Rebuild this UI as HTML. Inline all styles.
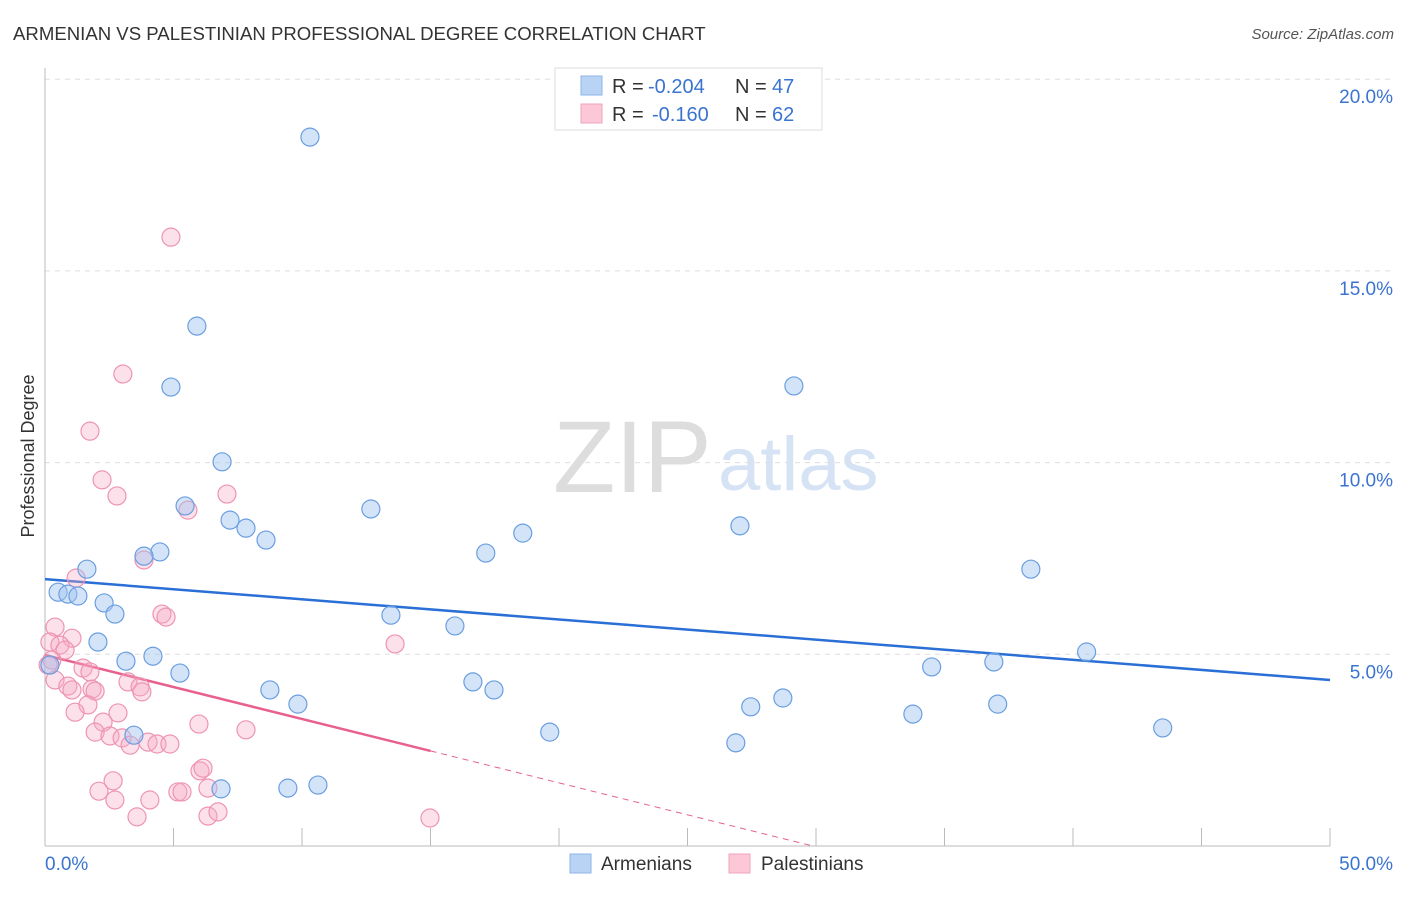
<!DOCTYPE html>
<html><head><meta charset="utf-8"><style>
body{margin:0;background:#fff;font-family:"Liberation Sans",sans-serif}
svg text{font-family:"Liberation Sans",sans-serif}
</style></head><body>
<svg id="chart" width="1406" height="892" viewBox="0 0 1406 892">
<text x="13" y="40" font-size="18.6" fill="#333">ARMENIAN VS PALESTINIAN PROFESSIONAL DEGREE CORRELATION CHART</text>
<text x="1394" y="39" font-size="15" font-style="italic" fill="#555" text-anchor="end">Source: ZipAtlas.com</text>
<text x="553" y="492" font-size="102" font-family="Liberation Serif,serif" fill="#ddd">ZIP</text>
<text x="718" y="490" font-size="76" fill="#d5e3f5">atlas</text>
<text transform="translate(34,456) rotate(-90)" font-size="18" fill="#333" text-anchor="middle">Professional Degree</text>
<g id="grid"></g><g id="axes"></g><g id="lines"></g><g id="pts"></g>
<g>
<rect x="555" y="68" width="267" height="62" fill="#fff" stroke="#ddd"/>
<rect x="581" y="76" width="21" height="19" fill="#b8d3f4" stroke="#8db4e8"/>
<rect x="581" y="104" width="21" height="19" fill="#fcc8d8" stroke="#f0a3bd"/>
<text x="612" y="93" font-size="20" fill="#333">R = <tspan x="648" fill="#3a74d0">-0.204</tspan><tspan x="735">N = </tspan><tspan x="772" fill="#3a74d0">47</tspan></text>
<text x="612" y="121" font-size="20" fill="#333">R = <tspan x="652" fill="#3a74d0">-0.160</tspan><tspan x="735">N = </tspan><tspan x="772" fill="#3a74d0">62</tspan></text>
</g>
<g>
<rect x="570" y="854" width="21" height="19" fill="#b8d3f4" stroke="#8db4e8"/>
<text x="601" y="870" font-size="19" fill="#333">Armenians</text>
<rect x="729" y="854" width="21" height="19" fill="#fcc8d8" stroke="#f0a3bd"/>
<text x="761" y="870" font-size="19" fill="#333">Palestinians</text>
</g>
</svg>
<script>
const yTicks=[5,10,15,20];
const yTickLabels=["5.0%","10.0%","15.0%","20.0%"];
const xTicks=[5,10,15,20,25,30,35,40,45,50];
const armX=[10.31,5.91,4.90,29.14,6.89,5.45,12.68,7.20,7.82,27.04,8.60,18.59,4.47,3.85,17.15,1.63,38.36,0.51,0.89,1.28,2.30,2.72,13.46,15.95,2.06,4.20,3.15,36.92,40.53,34.50,0.19,5.25,16.65,8.75,17.47,9.84,28.71,27.46,37.07,33.77,19.64,43.49,26.88,3.46,6.85,9.45,10.62];
const armY=[18.49,13.56,11.97,12.00,10.02,8.87,8.79,8.50,8.29,8.35,7.98,8.16,7.67,7.56,7.64,7.22,7.22,6.62,6.57,6.52,6.34,6.05,6.02,5.74,5.32,4.95,4.82,4.80,5.06,4.67,4.72,4.51,4.28,4.07,4.07,3.70,3.86,3.63,3.70,3.44,2.97,3.08,2.69,2.89,1.49,1.51,1.59];
const palX=[4.90,3.03,1.75,2.22,2.80,7.08,5.56,3.85,1.21,4.55,4.71,13.62,0.39,1.05,0.19,0.58,0.78,0.27,1.48,1.75,0.39,0.89,1.05,1.83,1.95,3.23,3.70,3.77,1.67,1.17,2.84,2.26,1.95,2.53,3.00,3.31,4.01,4.36,4.86,5.99,7.82,6.03,6.15,2.65,2.10,2.72,4.08,5.17,5.33,6.34,3.58,6.34,6.73,14.98,0.12];
const palY=[15.88,12.31,10.82,9.55,9.13,9.18,8.76,7.46,6.99,6.05,5.97,5.27,5.71,5.42,5.32,5.24,5.11,4.85,4.64,4.54,4.33,4.17,4.07,4.09,4.04,4.28,4.15,4.02,3.68,3.49,3.47,3.23,2.97,2.87,2.82,2.63,2.71,2.66,2.66,3.18,3.03,1.96,2.03,1.70,1.43,1.20,1.20,1.41,1.41,1.51,0.76,0.78,0.89,0.73,4.72];
const armTrend=[6.96,4.33];
const palTrend=[4.98,2.48,15];
const X=v=>45+v*(1285/50);
const Y=v=>846-v*(191.7/5);
const NS="http://www.w3.org/2000/svg";
function mk(tag,attrs,parent){const e=document.createElementNS(NS,tag);for(const k in attrs)e.setAttribute(k,attrs[k]);document.getElementById(parent).appendChild(e);return e;}
yTicks.forEach((t,i)=>{
 const g=mk('line',{x1:45,x2:1393,y1:Y(t),y2:Y(t),stroke:'#ddd','stroke-dasharray':'5,5'},'grid');
 
 
 const l=mk('text',{x:1393,y:Y(t)+24,'font-size':19,fill:'#3a74d0','text-anchor':'end'},'grid');
 l.textContent=yTickLabels[i];
 
 
});
const ya=mk('line',{x1:45,x2:45,y1:68,y2:846,stroke:'#bbb'},'axes');


const xa=mk('line',{x1:45,x2:1330,y1:846,y2:846,stroke:'#bbb'},'axes');


xTicks.forEach(t=>{
 const k=mk('line',{x1:X(t),x2:X(t),y1:828,y2:846,stroke:'#bbb'},'axes');
 
 
});
const x0=mk('text',{x:45,y:870,'font-size':19,fill:'#3a74d0'},'axes');x0.textContent='0.0%';


const x1=mk('text',{x:1393,y:870,'font-size':19,fill:'#3a74d0','text-anchor':'end'},'axes');x1.textContent='50.0%';


palX.forEach((v,i)=>{
 const c=mk('circle',{cx:X(v),cy:Y(palY[i]),r:9,fill:'rgba(246,168,194,0.35)',stroke:'#ee94b3','stroke-width':1.2},'pts');
 
 
});
armX.forEach((v,i)=>{
 const c=mk('circle',{cx:X(v),cy:Y(armY[i]),r:9,fill:'rgba(160,196,240,0.45)',stroke:'#6a9ee0','stroke-width':1.2},'pts');
 
 
});
const bl=mk('line',{x1:X(0),y1:Y(armTrend[0]),x2:X(50),y2:Y(armTrend[1]),stroke:'#2a6fd6','stroke-width':2.5},'lines');


const ps=(palTrend[1]-palTrend[0])/palTrend[2];
const pl=mk('line',{x1:X(0),y1:Y(palTrend[0]),x2:X(palTrend[2]),y2:Y(palTrend[1]),stroke:'#e8608e','stroke-width':2.5},'lines');


const xz=-palTrend[0]/ps;
const pd=mk('line',{x1:X(palTrend[2]),y1:Y(palTrend[1]),x2:X(xz),y2:Y(0),stroke:'#e8608e','stroke-width':1,'stroke-dasharray':'6,5'},'lines');


</script>
</body></html>
